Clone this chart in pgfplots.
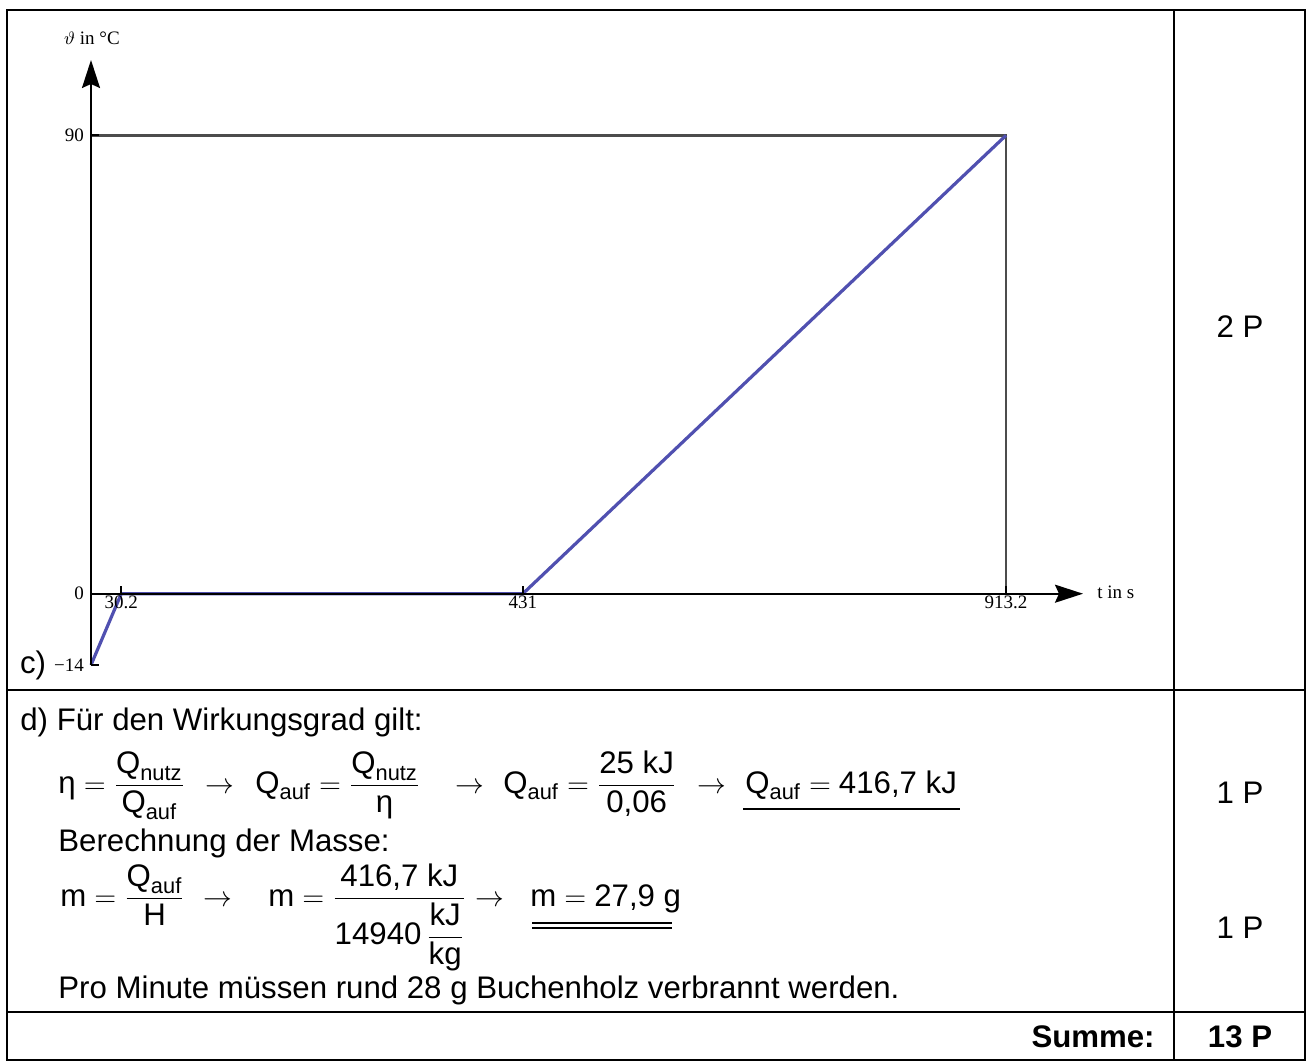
\documentclass[border=0pt]{standalone}
\usepackage{fontspec}
\setmainfont{Liberation Sans}
\newfontfamily\serif{Liberation Serif}
\usepackage{amsmath}
\usepackage{pgfplots}
\pgfplotsset{compat=1.18}
\usetikzlibrary{arrows.meta}
\definecolor{lineblue}{RGB}{80,80,176}
\begin{document}
\begin{tikzpicture}
\begin{scope}[x=0.5pt,y=0.5pt, every node/.style={font=\fontsize{15.6}{18}\selectfont, inner sep=0pt}]
\path (0,0) rectangle (1308,1062);
\draw[line width=1pt] (7,2) rectangle (1305,1052);
\draw[line width=1pt] (1174,2) -- (1174,1052);
\draw[line width=1pt] (7,372) -- (1305,372);
\draw[line width=1pt] (7,50) -- (1305,50);
% right column
\node at (1240,735) {2 P};
\node at (1240,269) {1 P};
\node at (1240,134) {1 P};
\node[font=\fontsize{15.6}{18}\selectfont\bfseries] at (1240,25) {13 P};
\node[anchor=east,font=\fontsize{15.6}{18}\selectfont\bfseries] at (1155,25) {Summe:};
% c)
\node at (33,397) {c)};
% d)
\node[anchor=west] at (20,340) {d) Für den Wirkungsgrad gilt:};
\node[anchor=base west] at (58,269) {$\text{η} = \dfrac{\text{Q}_{\text{nutz}}}{\text{Q}_{\text{auf}}}$};
\node[anchor=base] at (220,269) {$\rightarrow$};
\node[anchor=base west] at (255,269) {$\text{Q}_{\text{auf}} = \dfrac{\text{Q}_{\text{nutz}}}{\text{η}}$};
\node[anchor=base] at (470,269) {$\rightarrow$};
\node[anchor=base west] at (503,269) {$\text{Q}_{\text{auf}} = \dfrac{\text{25 kJ}}{\text{0,06}}$};
\node[anchor=base] at (712,269) {$\rightarrow$};
\node[anchor=base west] at (745,269) {$\text{Q}_{\text{auf}} = \text{416,7 kJ}$};
\draw[line width=1.2pt] (743,253) -- (960,253);
\node[anchor=west] at (58,219) {Berechnung der Masse:};
\node[anchor=base west] at (60,156) {$\text{m} = \dfrac{\text{Q}_{\text{auf}}}{\text{H}}$};
\node[anchor=base] at (218,156) {$\rightarrow$};
\node[anchor=base west] at (268,156) {$\text{m} = \dfrac{\text{416,7 kJ}}{\text{14940}\,\dfrac{\text{kJ}}{\text{kg}}}$};
\node[anchor=base] at (490,156) {$\rightarrow$};
\node[anchor=base west] at (530,156) {$\text{m} = \text{27,9 g}$};
\draw[line width=0.7pt] (532,139) -- (672,139);
\draw[line width=0.7pt] (532,134) -- (672,134);
\node[anchor=west] at (58,72) {Pro Minute müssen rund 28 g Buchenholz verbrannt werden.};
% chart labels
\node[font=\serif\fontsize{9.5}{11}\selectfont] at (92,1024) {$\vartheta$ in °C};
\node[anchor=west,font=\serif\fontsize{9.5}{11}\selectfont] at (1097,470) {t in s};
\end{scope}
\begin{axis}[
  at={(45.5pt,198.5pt)}, anchor=south west,
  scale only axis, width=496pt, height=302.5pt,
  xmin=0, xmax=990, ymin=-14, ymax=104.8,
  axis lines=middle,
  axis line style={line width=1pt},
  every inner x axis line/.append style={-{Stealth[length=14pt,width=9pt,inset=2pt]}},
  every inner y axis line/.append style={-{Stealth[length=14pt,width=9pt,inset=2pt]}},
  xtick={30.2,431,913.2}, xticklabels={30.2,431,913.2},
  ytick={-14,0,90}, yticklabels={−14,0,90},
  tick align=inside, major tick length=4pt,
  tick style={black, line width=1pt},
  hide obscured x ticks=false, hide obscured y ticks=false,
  ticklabel style={font=\serif\fontsize{9.5}{11}\selectfont},
  xticklabel style={inner sep=1pt},
  clip=false, axis on top,
]
\addplot[draw=black!70, line width=1.2pt] coordinates {(0,90) (913.2,90) (913.2,0)};
\addplot[color=lineblue, line width=1.6pt] coordinates {(0,-14) (30.2,0) (431,0) (913.2,90)};
\end{axis}
\end{tikzpicture}
\end{document}
